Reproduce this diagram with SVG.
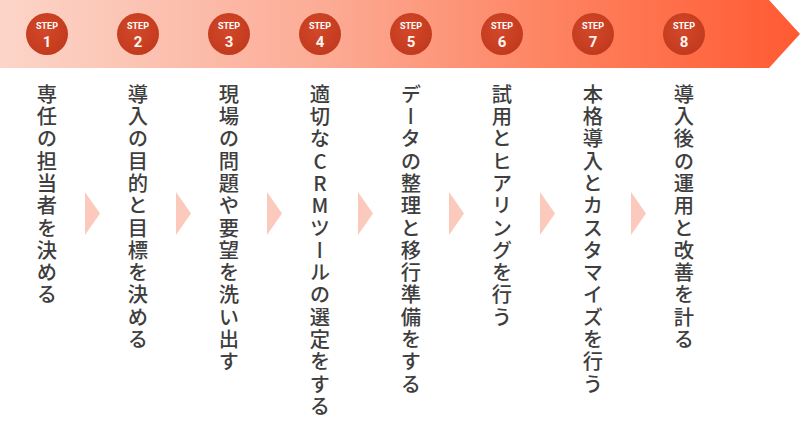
<svg xmlns="http://www.w3.org/2000/svg" width="800" height="426" viewBox="0 0 800 426">
<defs>
<linearGradient id="band" x1="0" y1="0" x2="800" y2="0" gradientUnits="userSpaceOnUse">
<stop offset="0" stop-color="#fcd5c9"/>
<stop offset="0.4" stop-color="#fcac96"/>
<stop offset="0.75" stop-color="#fe7b57"/>
<stop offset="1" stop-color="#ff5a32"/>
</linearGradient>
<radialGradient id="disc" cx="0.45" cy="0.4" r="0.6">
<stop offset="0" stop-color="#d4482a"/>
<stop offset="1" stop-color="#c23a1e"/>
</radialGradient>
<g id="chev"><polygon points="0,0 15,21.5 0,43" class="chev"/></g>
</defs>
<style>
.disc{fill:url(#disc)}
.st{font-family:Roboto,"Liberation Sans",sans-serif;font-weight:700;font-size:9px;fill:#ffffff;text-anchor:middle}
.num{font-family:Roboto,"Liberation Sans",sans-serif;font-weight:700;font-size:15px;fill:#fff4ee;text-anchor:middle}
.lbl{font-family:"Noto Sans CJK JP",sans-serif;font-weight:500;font-size:20.3px;fill:#3e3e3e;writing-mode:vertical-rl;letter-spacing:2px}
.up{text-orientation:upright}
.chev{fill:#fccabd}
</style>
<polygon id="banner" points="0,0 769,0 800,34 769,68 0,68" fill="url(#band)"/>
<g id="connectors">
<use href="#chev" x="85" y="192"/>
<use href="#chev" x="176" y="192"/>
<use href="#chev" x="267" y="192"/>
<use href="#chev" x="358" y="192"/>
<use href="#chev" x="449" y="192"/>
<use href="#chev" x="540" y="192"/>
<use href="#chev" x="631" y="192"/>
</g>
<g id="step1"><circle class="disc" cx="47" cy="34" r="21"/><text class="st" x="47" y="29">STEP</text><text class="num" x="47" y="47">1</text><text class="lbl" x="47" y="84">専任の担当者を決める</text></g>
<g id="step2"><circle class="disc" cx="138" cy="34" r="21"/><text class="st" x="138" y="29">STEP</text><text class="num" x="138" y="47">2</text><text class="lbl" x="138" y="84">導入の目的と目標を決める</text></g>
<g id="step3"><circle class="disc" cx="229" cy="34" r="21"/><text class="st" x="229" y="29">STEP</text><text class="num" x="229" y="47">3</text><text class="lbl" x="229" y="84">現場の問題や要望を洗い出す</text></g>
<g id="step4"><circle class="disc" cx="320" cy="34" r="21"/><text class="st" x="320" y="29">STEP</text><text class="num" x="320" y="47">4</text><text class="lbl" x="320" y="84">適切な<tspan class="up">CRM</tspan>ツールの選定をする</text></g>
<g id="step5"><circle class="disc" cx="411" cy="34" r="21"/><text class="st" x="411" y="29">STEP</text><text class="num" x="411" y="47">5</text><text class="lbl" x="411" y="84">データの整理と移行準備をする</text></g>
<g id="step6"><circle class="disc" cx="502" cy="34" r="21"/><text class="st" x="502" y="29">STEP</text><text class="num" x="502" y="47">6</text><text class="lbl" x="502" y="84">試用とヒアリングを行う</text></g>
<g id="step7"><circle class="disc" cx="593" cy="34" r="21"/><text class="st" x="593" y="29">STEP</text><text class="num" x="593" y="47">7</text><text class="lbl" x="593" y="84">本格導入とカスタマイズを行う</text></g>
<g id="step8"><circle class="disc" cx="684" cy="34" r="21"/><text class="st" x="684" y="29">STEP</text><text class="num" x="684" y="47">8</text><text class="lbl" x="684" y="84">導入後の運用と改善を計る</text></g>
</svg>
